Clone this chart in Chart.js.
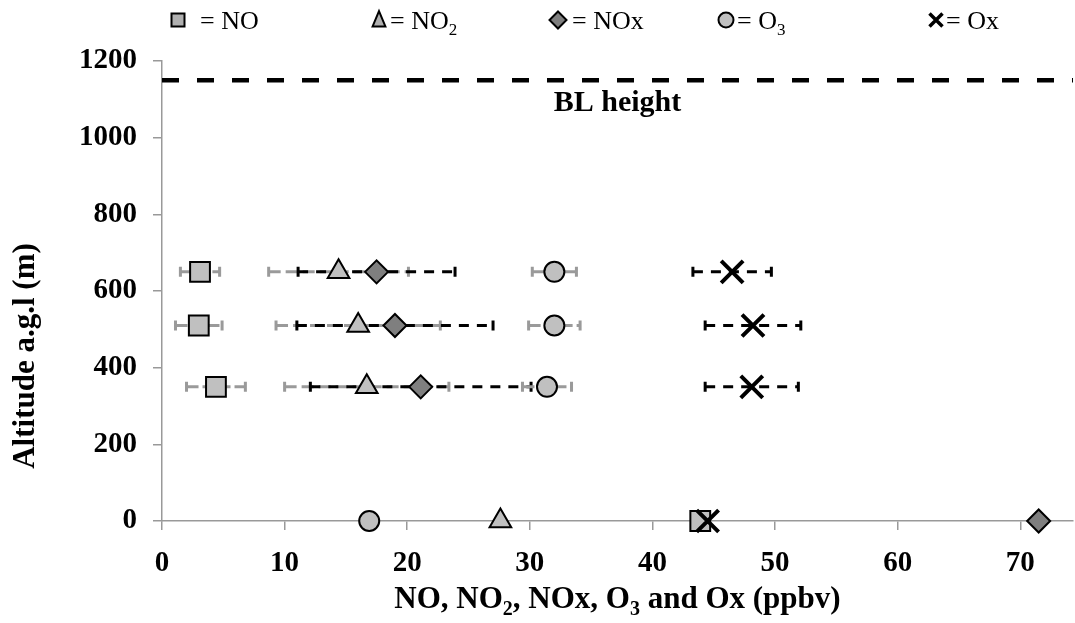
<!DOCTYPE html>
<html>
<head>
<meta charset="utf-8">
<script src="https://cdn.jsdelivr.net/npm/chart.js@4.4.1/dist/chart.umd.min.js"></script>
<style>
body{margin:0;background:#fff;}
</style>
</head>
<body>
<canvas id="profileChart" width="1075" height="623"></canvas>
<script>

// altitude levels (m) and mean mixing ratios (ppbv) with their spread
const altitudes = [0, 350, 510, 650];

const noValues = [43.9, 4.4, 3.0, 3.1];
const noErrors = [0, 2.4, 1.9, 1.6];

const no2Values = [27.6, 16.7, 16.0, 14.4];
const no2Errors = [0, 6.7, 6.7, 5.7];

const noxValues = [71.5, 21.1, 19.0, 17.5];
const noxErrors = [0, 9.0, 8.0, 6.4];

const o3Values = [16.9, 31.4, 32.0, 32.0];
const o3Errors = [0, 2.0, 2.1, 1.8];

const oxValues = [44.5, 48.1, 48.2, 46.5];
const oxErrors = [0, 3.8, 3.9, 3.2];

const blHeight = 1150;

const xTicks = [0, 10, 20, 30, 40, 50, 60, 70];
const yTicks = [0, 200, 400, 600, 800, 1000, 1200];

const legendLabels = [
[["= NO"]],
[["= NO"], ["2", true]],
[["= NOx"]],
[["= O"], ["3", true]],
[["= Ox"]]
];

const xTitle = [["NO, NO"], ["2", true], [", NOx, O"], ["3", true], [" and Ox (ppbv)"]];
const yTitle = "Altitude a.g.l (m)";
const blLabel = "BL height";

const xMax = 74.3;
const serif = '"Liberation Serif", "Times New Roman", serif';


function points(values){
return altitudes.map((a, i) => ({x: values[i], y: a}));
}


function drawRich(ctx, parts, x, y, size, bold, center){
const weight = bold ? "bold " : "";
let total = 0;
parts.forEach(p => {
ctx.font = weight + (p[1] ? Math.round(size * 0.66) : size) + "px " + serif;
total += ctx.measureText(p[0]).width;
});
let cx = center ? x - total / 2 : x;
parts.forEach(p => {
ctx.font = weight + (p[1] ? Math.round(size * 0.66) : size) + "px " + serif;
ctx.fillText(p[0], cx, p[1] ? y + size * 0.22 : y);
cx += ctx.measureText(p[0]).width;
});
}


function drawMarker(ctx, style, x, y, r, fill){
ctx.save();
ctx.fillStyle = fill;
ctx.strokeStyle = "#000";
ctx.lineWidth = 2;
ctx.beginPath();
if(style === "rect"){
ctx.rect(x - r, y - r, 2 * r, 2 * r);
} else if(style === "triangle"){
ctx.moveTo(x, y - r * 1.1);
ctx.lineTo(x + r * 0.8, y + r * 0.8);
ctx.lineTo(x - r * 0.8, y + r * 0.8);
ctx.closePath();
} else if(style === "rectRot"){
ctx.moveTo(x, y - r);
ctx.lineTo(x + r, y);
ctx.lineTo(x, y + r);
ctx.lineTo(x - r, y);
ctx.closePath();
} else if(style === "circle"){
ctx.arc(x, y, r, 0, Math.PI * 2);
}
if(style === "crossRot"){
ctx.lineWidth = 3.5;
ctx.moveTo(x - r, y - r);
ctx.lineTo(x + r, y + r);
ctx.moveTo(x + r, y - r);
ctx.lineTo(x - r, y + r);
ctx.stroke();
} else {
ctx.fill();
ctx.stroke();
}
ctx.restore();
}


const errorBars = {
id: "errorBars",
beforeDatasetsDraw(chart){
const ctx = chart.ctx;
const xs = chart.scales.x;
const ys = chart.scales.y;
chart.data.datasets.forEach(ds => {
if(!ds.errors) return;
ds.data.forEach((p, i) => {
const e = ds.errors[i];
if(!e) return;
const x1 = xs.getPixelForValue(p.x - e);
const x2 = xs.getPixelForValue(p.x + e);
const y = ys.getPixelForValue(p.y);
ctx.save();
ctx.strokeStyle = ds.errorColor;
ctx.lineWidth = 3;
ctx.setLineDash(ds.errorDash);
ctx.beginPath();
ctx.moveTo(x1, y);
ctx.lineTo(x2, y);
ctx.stroke();
ctx.setLineDash([]);
ctx.beginPath();
ctx.moveTo(x1, y - 5);
ctx.lineTo(x1, y + 5);
ctx.moveTo(x2, y - 5);
ctx.lineTo(x2, y + 5);
ctx.stroke();
ctx.restore();
});
});
}
};


const texts = {
id: "texts",
afterDraw(chart){
const ctx = chart.ctx;
const area = chart.chartArea;
const ys = chart.scales.y;
ctx.save();
ctx.fillStyle = "#000";
ctx.textBaseline = "alphabetic";
ctx.textAlign = "left";

// legend row
const marks = [
{style: "rect", fill: "#b0b0b0", x: 178, r: 6.5, tx: 200},
{style: "triangle", fill: "#b0b0b0", x: 379, r: 8, tx: 390},
{style: "rectRot", fill: "#7f7f7f", x: 558, r: 8.5, tx: 572},
{style: "circle", fill: "#c0c0c0", x: 726, r: 7.5, tx: 737},
{style: "crossRot", fill: "#000", x: 936, r: 6.5, tx: 946}
];
marks.forEach((m, i) => {
drawMarker(ctx, m.style, m.x, 20, m.r, m.fill);
ctx.fillStyle = "#000";
drawRich(ctx, legendLabels[i], m.tx, 29, 26, false, false);
});

// BL label
ctx.font = "bold 30px " + serif;
ctx.textAlign = "center";
ctx.fillText(blLabel, (area.left + area.right) / 2, ys.getPixelForValue(blHeight) + 31);

// x title
ctx.textAlign = "left";
drawRich(ctx, xTitle, (area.left + area.right) / 2, 608, 31, true, true);

// y title
ctx.translate(34, 356);
ctx.rotate(-Math.PI / 2);
ctx.textAlign = "center";
ctx.font = "bold 31px " + serif;
ctx.fillText(yTitle, 0, 0);
ctx.restore();
}
};


const tickFont = {family: serif, size: 29, weight: "bold"};

new Chart(document.getElementById("profileChart"), {

type: "scatter",

data: {
datasets: [
{
label: "BL height",
type: "line",
data: [{x: 0, y: blHeight}, {x: xMax, y: blHeight}],
borderColor: "#000",
borderWidth: 4.5,
borderDash: [17, 18],
pointRadius: 0,
order: 10
},
{
label: "NO",
data: points(noValues),
errors: noErrors,
errorColor: "#9a9a9a",
errorDash: [12, 4],
pointStyle: "rect",
pointRadius: 14,
backgroundColor: "#c0c0c0",
borderColor: "#000",
borderWidth: 2,
clip: false,
order: 5
},
{
label: "NO2",
data: points(no2Values),
errors: no2Errors,
errorColor: "#9a9a9a",
errorDash: [12, 5],
pointStyle: "triangle",
pointRadius: 12.5,
backgroundColor: "#c0c0c0",
borderColor: "#000",
borderWidth: 2,
clip: false,
order: 4
},
{
label: "NOx",
data: points(noxValues),
errors: noxErrors,
errorColor: "#000",
errorDash: [10, 8],
pointStyle: "rectRot",
pointRadius: 11.5,
backgroundColor: "#7f7f7f",
borderColor: "#000",
borderWidth: 2,
clip: false,
order: 3
},
{
label: "O3",
data: points(o3Values),
errors: o3Errors,
errorColor: "#9a9a9a",
errorDash: [12, 4],
pointStyle: "circle",
pointRadius: 10,
backgroundColor: "#c0c0c0",
borderColor: "#000",
borderWidth: 2,
clip: false,
order: 2
},
{
label: "Ox",
data: points(oxValues),
errors: oxErrors,
errorColor: "#000",
errorDash: [10, 8],
pointStyle: "crossRot",
pointRadius: 15.5,
backgroundColor: "#000",
borderColor: "#000",
borderWidth: 4,
clip: false,
order: 1
}
]
},

options: {
responsive: false,
animation: false,
layout: {autoPadding: false, padding: {left: 0, right: 2, top: 61, bottom: 0}},
plugins: {
legend: {display: false},
tooltip: {enabled: false}
},
scales: {
x: {
type: "linear",
min: 0,
max: xMax,
afterBuildTicks: s => { s.ticks = xTicks.map(v => ({value: v})); },
afterFit: s => { s.height = 102; s.paddingLeft = 0; s.paddingRight = 0; },
grid: {drawOnChartArea: false, drawTicks: true, tickLength: 9, color: "#999", lineWidth: 1.5},
border: {color: "#999", width: 1.5},
ticks: {font: tickFont, color: "#000", padding: 16, maxRotation: 0, autoSkip: false, callback: v => String(v)}
},
y: {
type: "linear",
min: 0,
max: 1200,
afterBuildTicks: s => { s.ticks = yTicks.map(v => ({value: v})); },
afterFit: s => { s.width = 162; s.paddingTop = 0; s.paddingBottom = 0; },
grid: {drawOnChartArea: false, drawTicks: true, tickLength: 9, color: "#999", lineWidth: 1.5},
border: {color: "#999", width: 1.5},
ticks: {font: tickFont, color: "#000", padding: 16, autoSkip: false, callback: v => String(v)}
}
}
},

plugins: [errorBars, texts]

});

</script>
</body>
</html>
